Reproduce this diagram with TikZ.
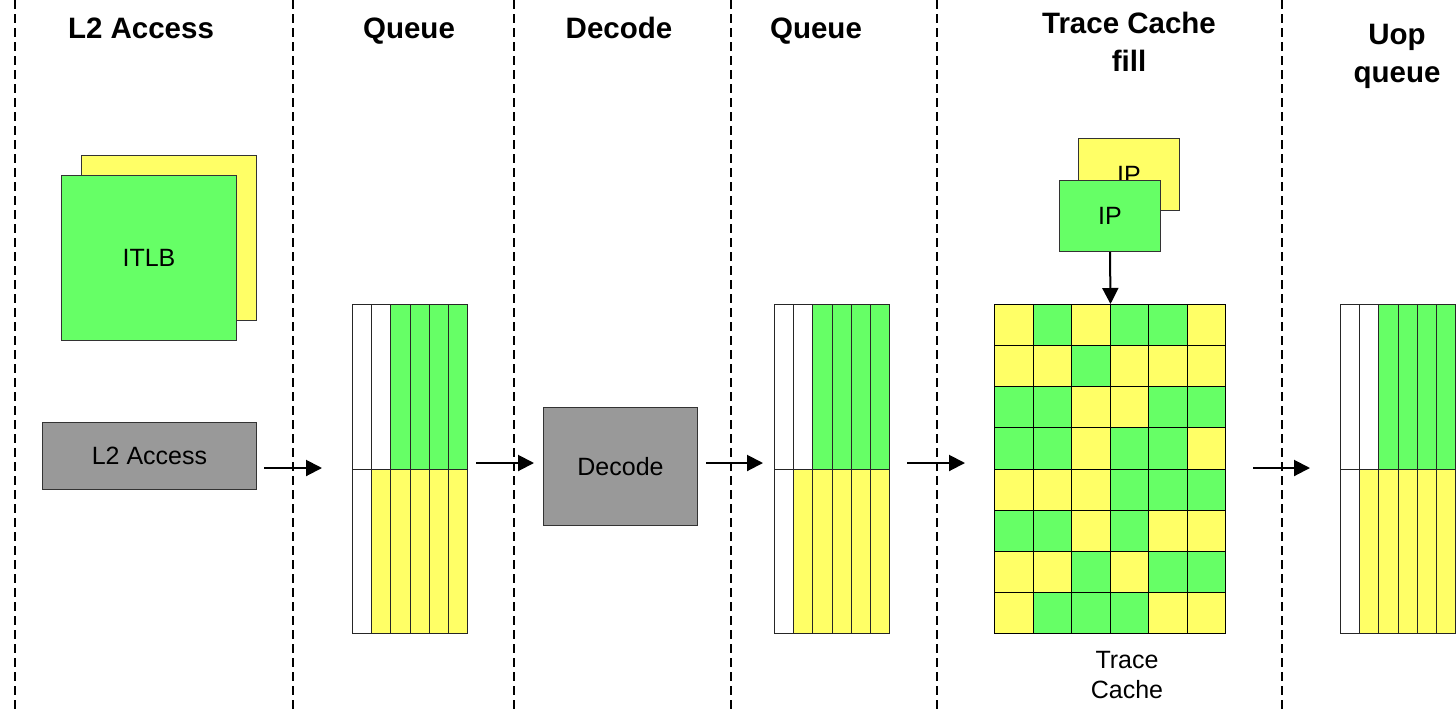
\documentclass[tikz,border=0pt]{standalone}
\usepackage{fontspec}
\setmainfont{Liberation Sans}
\usetikzlibrary{arrows.meta}
\definecolor{tgreen}{HTML}{66FF66}
\definecolor{tyellow}{HTML}{FFFF66}
\definecolor{tgray}{HTML}{999999}
\colorlet{Y}{tyellow}
\colorlet{G}{tgreen}
\tikzset{
  sep/.style={line width=2pt, dash pattern=on 9pt off 5pt},
  hdr/.style={font=\fontsize{29.5}{38}\selectfont\bfseries, align=center},
  lbl/.style={font=\fontsize{25}{30}\selectfont, align=center},
  box/.style={draw=black!80, line width=1pt, inner sep=0pt, anchor=north west},
  flow/.style={line width=2pt, -{Triangle[length=16pt,width=16pt]}},
  cell/.style={draw=black, line width=1pt, inner sep=0pt, anchor=north west,
    minimum width=38.5pt, minimum height=41.125pt},
  qcell/.style={draw=black!85, line width=1pt, inner sep=0pt, anchor=north west,
    minimum width=19.17pt, minimum height=164.5pt},
}
\newcommand\drawqueue[2]{%
  \foreach \k in {0,...,5} {
    \ifnum\k<2 \def\ct{white}\else\def\ct{tgreen}\fi
    \ifnum\k<1 \def\cb{white}\else\def\cb{tyellow}\fi
    \node[qcell, fill=\ct] (#2t\k) at (#1+\k*19.17,304) {};
    \node[qcell, fill=\cb] (#2b\k) at (#1+\k*19.17,468.5) {};
  }
}
\begin{document}
\begin{tikzpicture}[x=1pt,y=-1pt]
\useasboundingbox (0,0) rectangle (1456,713);
\fill[white] (0,0) rectangle (1456,713);

% stage separators
\foreach \x/\n in {15/a,293/b,514/c,731/d,937/e,1282/f} {
  \coordinate (st\n) at (\x,0);
  \coordinate (sb\n) at (\x,713);
  \draw[sep] (st\n) -- (sb\n);
}

% headers
\node[hdr, anchor=base] (h1) at (141,38.5) {L2 Access};
\node[hdr, anchor=base] (h2) at (409,38.5) {Queue};
\node[hdr, anchor=base] (h3) at (619,38.5) {Decode};
\node[hdr, anchor=base] (h4) at (816,38.5) {Queue};
\node[hdr] (h5) at (1129,42) {Trace Cache\\fill};
\node[hdr] (h6) at (1397,56.5) {Uop\\queue};

% ITLB
\node[box, fill=tyellow, minimum width=175pt, minimum height=165pt] (itlbback) at (81,155) {};
\node[box, fill=tgreen, minimum width=175pt, minimum height=165pt, lbl] (itlb) at (61,175) {ITLB};

% L2 access and decode
\node[box, fill=tgray, minimum width=214pt, minimum height=67pt, lbl] (l2) at (42,422) {L2 Access};
\node[box, fill=tgray, minimum width=154pt, minimum height=118pt, lbl] (dec) at (543,407) {Decode};

% queues
\drawqueue{352}{qa}
\drawqueue{774}{qb}
\drawqueue{1340}{qc}

% trace cache grid
\foreach \r/\cols in {0/{Y,G,Y,G,G,Y},1/{Y,Y,G,Y,Y,Y},2/{G,G,Y,Y,G,G},3/{G,G,Y,G,G,Y},
                      4/{Y,Y,Y,G,G,G},5/{G,G,Y,G,Y,Y},6/{Y,Y,G,Y,G,G},7/{Y,G,G,G,Y,Y}} {
  \foreach \c [count=\k from 0] in \cols {
    \node[cell, fill=\c] (c\r\k) at (994+\k*38.5,304+\r*41.125) {};
  }
}
\node[lbl] (tclbl) at (1127,675) {Trace\\Cache};

% IP boxes
\node[box, fill=tyellow, minimum width=101pt, minimum height=72pt, lbl] (ipb) at (1078,138) {IP};
\node[box, fill=tgreen, minimum width=101pt, minimum height=71pt, lbl] (ipf) at (1059,180) {IP};
\draw[flow] (ipf.south) -- (c02.north east);

% flow arrows
\coordinate (a1s) at (264,468); \coordinate (a1e) at (322,468);
\coordinate (a2s) at (476,463); \coordinate (a2e) at (534,463);
\coordinate (a3s) at (706,463); \coordinate (a3e) at (763,463);
\coordinate (a4s) at (907,463); \coordinate (a4e) at (965,463);
\coordinate (a5s) at (1253,468); \coordinate (a5e) at (1310,468);
\foreach \i in {1,...,5} { \draw[flow] (a\i s) -- (a\i e); }
\end{tikzpicture}
\end{document}
